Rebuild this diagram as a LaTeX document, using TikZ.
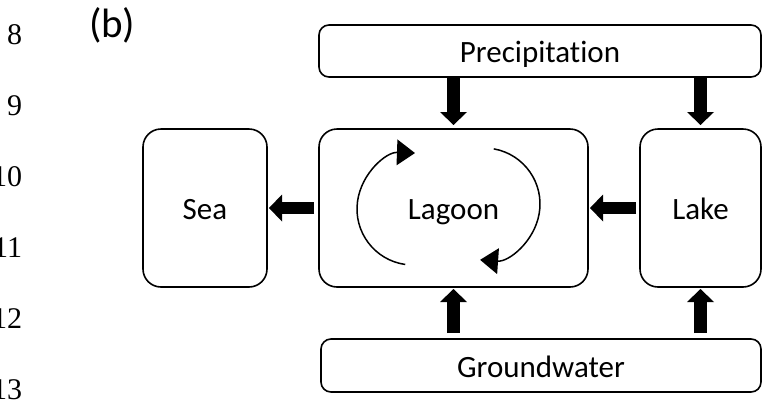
\documentclass[tikz,border=0pt]{standalone}
\usepackage{fontspec}
\setmainfont{Carlito}[Ligatures={NoCommon}]
\newfontfamily\numfont{Liberation Serif}
\usetikzlibrary{arrows.meta,calc}
\begin{document}
\begin{tikzpicture}[x=1pt,y=-1pt,
  every node/.style={inner sep=0pt,outer sep=0pt},
  boxtall/.style={draw,line width=1.6pt,rounded corners=18pt,font=\fontsize{31}{31}\selectfont,text height=23pt,text depth=0pt},
  boxwide/.style={draw,line width=1.6pt,rounded corners=10pt,font=\fontsize{31}{31}\selectfont,text height=23pt,text depth=0pt},
  blockarrow/.style={line width=12.5pt,-{Triangle[length=13pt,width=27pt,line width=0pt]}},
  cyclearrow/.style={line width=1.5pt,-{Triangle[length=18pt,width=26pt,line width=0pt]}},
  linenum/.style={anchor=east,font=\numfont\fontsize{30}{30}\selectfont}
]
\useasboundingbox (0,0) rectangle (763,405);
% line numbers
\node[linenum] (n8)  at (22,35)  {8};
\node[linenum] (n9)  at (22,106) {9};
\node[linenum] (n10) at (22,177) {10};
\node[linenum] (n11) at (22,248) {11};
\node[linenum] (n12) at (22,319) {12};
\node[linenum] (n13) at (22,390) {13};
% panel label
\node[font=\fontsize{41}{41}\selectfont,anchor=north west] (lbl) at (89,8) {(b)};
% boxes
\node[boxwide,minimum width=442pt,minimum height=52pt] (prec) at (540,51) {Precipitation};
\node[boxtall,minimum width=269pt,minimum height=158pt] (lag) at (453.5,208) {Lagoon};
\node[boxtall,minimum width=124pt,minimum height=158pt] (sea) at (205,208) {Sea};
\node[boxtall,minimum width=121pt,minimum height=158pt] (lake) at (700.5,208) {Lake};
\node[boxwide,minimum width=440pt,minimum height=53pt] (gw) at (541,365.5) {Groundwater};
% block arrows
\draw[blockarrow,shorten >=4pt] (prec.south -| lag.north) -- (lag.north);
\draw[blockarrow,shorten >=4pt] (prec.south -| lake.north) -- (lake.north);
\draw[blockarrow,shorten <=6pt,shorten >=2pt] (gw.north -| lag.south) -- (lag.south);
\draw[blockarrow,shorten <=6pt,shorten >=2pt] (gw.north -| lake.south) -- (lake.south);
\draw[blockarrow,shorten <=5pt,shorten >=2pt] (lag.west) -- (sea.east);
\draw[blockarrow,shorten <=4pt,shorten >=2pt] (lake.west) -- (lag.east);
% circulation arrows
\coordinate (cl) at ($(lag.center)+(-40.5,1)$);
\coordinate (cr) at ($(lag.center)+(30.5,-4)$);
\draw[cyclearrow] ($(cl)+(98:56)$) arc[start angle=98,end angle=272,radius=56];
\draw[cyclearrow] ($(cr)+(-80:56)$) arc[start angle=-80,end angle=94,radius=56];
\end{tikzpicture}
\end{document}
